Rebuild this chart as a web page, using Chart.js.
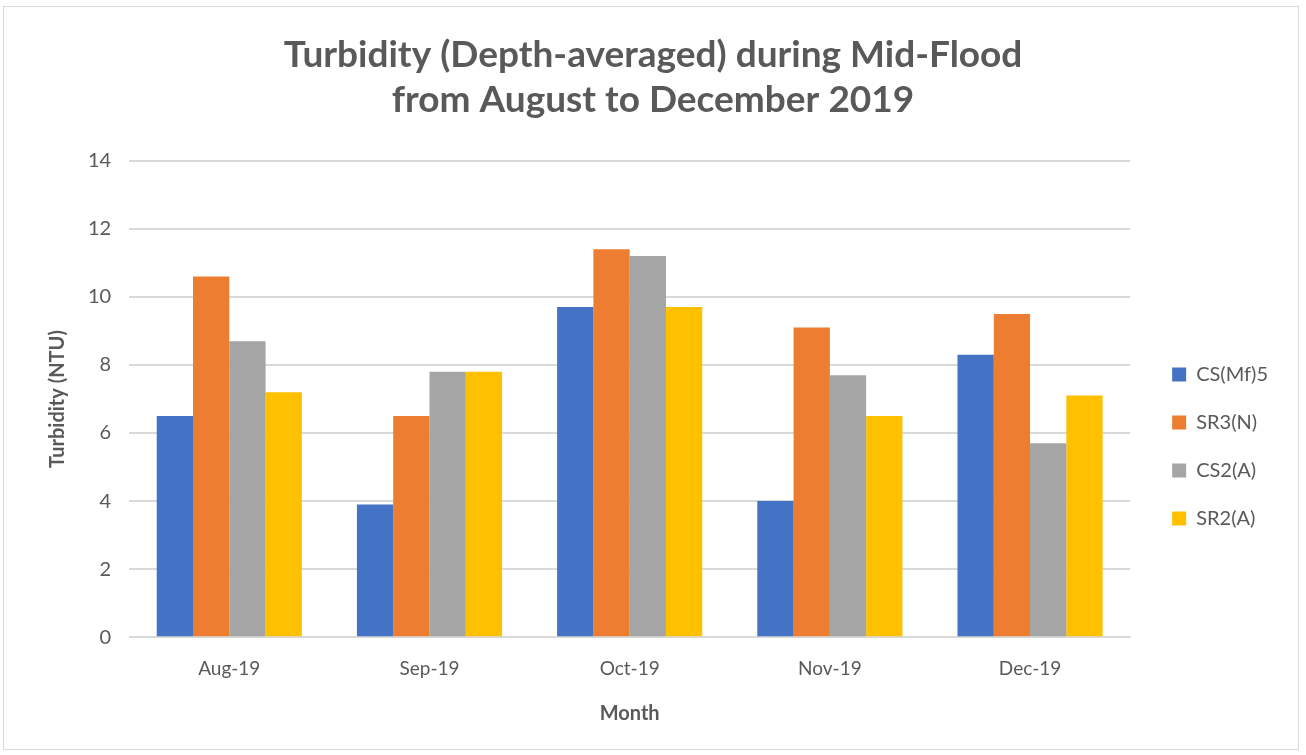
<!DOCTYPE html>
<html>
<head>
<meta charset="utf-8">
<script src="https://cdn.jsdelivr.net/npm/chart.js@4"></script>
<style>
  html, body { margin: 0; padding: 0; background: #fff; }
  #wrap {
    position: absolute; left: 3px; top: 6px; width: 1296px; height: 744px;
    border: 1px solid #d9d9d9; box-sizing: border-box;
  }
  canvas { display: block; }
</style>
</head>
<body>
<div id="wrap"><canvas id="turbidityChart"></canvas></div>
<script>
const months = ["Aug-19", "Sep-19", "Oct-19", "Nov-19", "Dec-19"];
const csMf5 = [6.5, 3.9, 9.7, 4.0, 8.3];
const sr3N = [10.6, 6.5, 11.4, 9.1, 9.5];
const cs2A = [8.7, 7.8, 11.2, 7.7, 5.7];
const sr2A = [7.2, 7.8, 9.7, 6.5, 7.1];
const yTicks = [0, 2, 4, 6, 8, 10, 12, 14];

const fontName = "Lato, 'Open Sans', sans-serif";
const textGray = "#595959";

const ctx = document.getElementById("turbidityChart");
const wrap = document.getElementById("wrap");
ctx.width = wrap.clientWidth;
ctx.height = wrap.clientHeight;

// push the legend a bit further from the plot, like in Excel
const legendGap = {
  id: "legendGap",
  afterLayout(chart) {
    chart.legend.left += 14;
    chart.legend.right += 14;
  },
};

new Chart(ctx, {
  type: "bar",
  data: {
    labels: months,
    datasets: [
      { label: "CS(Mf)5", data: csMf5, backgroundColor: "#4472c4" },
      { label: "SR3(N)", data: sr3N, backgroundColor: "#ed7d31" },
      { label: "CS2(A)", data: cs2A, backgroundColor: "#a5a5a5" },
      { label: "SR2(A)", data: sr2A, backgroundColor: "#ffc000" },
    ],
  },
  options: {
    responsive: false,
    animation: false,
    datasets: {
      bar: { categoryPercentage: 0.725, barPercentage: 1.0 },
    },
    layout: { padding: { left: 38, right: 34, top: 26, bottom: 19 } },
    plugins: {
      title: {
        display: true,
        text: ["Turbidity (Depth-averaged) during Mid-Flood", "from August to December 2019"],
        color: textGray,
        font: { family: fontName, size: 37, weight: "bold" },
        padding: { top: 0, bottom: 39 },
        lineHeight: 1.27,
      },
      legend: {
        position: "right",
        align: "center",
        title: {
          // empty title used only to push the legend items down a little
          display: true,
          text: " ",
          font: { size: 10 },
          padding: { top: 110, bottom: 8 },
        },
        labels: {
          color: textGray,
          font: { family: fontName, size: 20 },
          boxWidth: 14,
          boxHeight: 14,
          padding: 28,
        },
      },
      tooltip: { enabled: false },
    },
    scales: {
      x: {
        grid: { display: false },
        border: { color: "#d9d9d9" },
        ticks: { color: textGray, font: { family: fontName, size: 19 }, padding: 12 },
        title: {
          display: true,
          text: "Month",
          color: textGray,
          font: { family: fontName, size: 20, weight: "bold" },
          padding: { top: 10 },
        },
      },
      y: {
        min: 0,
        max: 14,
        afterBuildTicks: (axis) => {
          axis.ticks = yTicks.map((v) => ({ value: v }));
        },
        grid: { color: "#d9d9d9", lineWidth: 2, drawTicks: false },
        border: { display: false },
        ticks: { color: textGray, font: { family: fontName, size: 20 }, padding: 18 },
        title: {
          display: true,
          text: "Turbidity (NTU)",
          color: textGray,
          font: { family: fontName, size: 20, weight: "bold" },
          padding: { bottom: 0 },
        },
      },
    },
  },
  plugins: [legendGap],
});
</script>
</body>
</html>
